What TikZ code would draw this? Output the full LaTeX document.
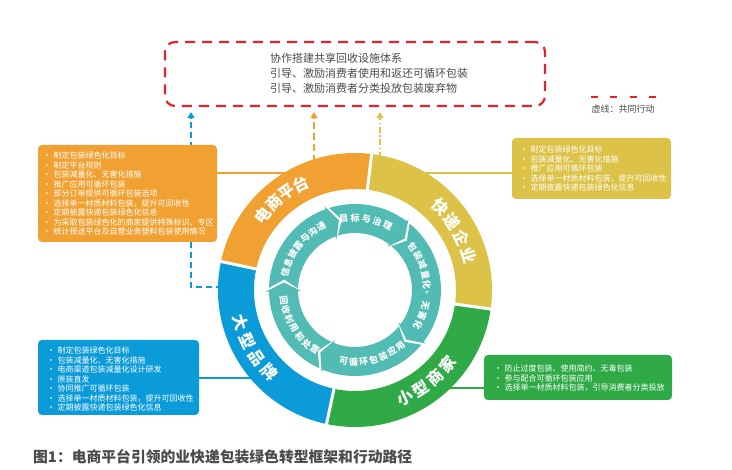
\documentclass[tikz,border=0pt]{standalone}
\usepackage{fontspec}
\setmainfont{Noto Sans CJK SC}
\usetikzlibrary{arrows.meta}
\definecolor{cOr}{HTML}{F0A132}
\definecolor{cYe}{HTML}{DCC247}
\definecolor{cGr}{HTML}{2FAA47}
\definecolor{cBl}{HTML}{0A9BD8}
\definecolor{cTe}{HTML}{52BCB4}
\definecolor{cRe}{HTML}{E62129}
\definecolor{cTx}{HTML}{4A4A4A}
\tikzset{
 infobox/.style={rectangle, rounded corners=4pt, inner sep=0pt},
 boxtext/.style={anchor=west, align=left, text=white, inner sep=0pt, font=\fontsize{8}{9.5}\selectfont},
 ringlab/.style={text=white, font=\fontsize{16}{16}\selectfont\bfseries, inner sep=0pt},
 tealab/.style={text=white, font=\fontsize{9}{9}\selectfont\bfseries, inner sep=0pt},
 conn/.style={line width=1.5pt},
 upar/.style={line width=1.5pt, -{Triangle[width=7pt,length=6pt]}, shorten >=5pt},
}
\begin{document}
\begin{tikzpicture}[x=1pt,y=1pt]
\useasboundingbox (0,0) rectangle (732,470);

% top dashed box
\node[draw=cRe, line width=2.2pt, dash pattern=on 10pt off 7pt, rounded corners=10pt,
      minimum width=380pt, minimum height=64pt, inner sep=0pt] (rb) at (355,396) {};
\node[anchor=west, align=left, text=cTx, inner sep=0pt, font=\fontsize{11}{15}\selectfont] (rbt) at (270,397)
 {协作搭建共享回收设施体系\\引导、激励消费者使用和返还可循环包装\\引导、激励消费者分类投放包装废弃物};

% legend
\coordinate (lg1) at (591,373);
\coordinate (lg2) at (657,373);
\draw[cRe, line width=2pt, dash pattern=on 7pt off 12.3pt] (lg1) -- (lg2);
\node[text=cTx, inner sep=0pt, font=\fontsize{9}{9}\selectfont] (lgt) at (623,361) {虚线：共同行动};

% coordinates on the ring
\coordinate (oc) at (290,297);
\coordinate (yc) at (420,297);
\coordinate (bc) at (256,92);
\coordinate (gc) at (445,82);
\coordinate (oa) at (314,308);
\coordinate (ya) at (380,312);
\coordinate (bs) at (222,183);
\coordinate (bk) at (191,183);

% dashed up arrows
\draw[upar, cBl, dash pattern=on 6pt off 4pt] (bs) -- (bk) -- (bk |- rb.south);
\draw[upar, cOr, dash pattern=on 7pt off 4pt] (oa) -- (oa |- rb.south);
\draw[upar, cYe, dash pattern=on 6pt off 2.5pt on 1.5pt off 2.5pt] (ya) -- (ya |- rb.south);

% boxes
\node[infobox, fill=cOr, minimum width=179pt, minimum height=97pt] (ob) at (127.5,276.5) {};
\node[infobox, fill=cYe, minimum width=159pt, minimum height=61pt] (yb) at (591.5,301.5) {};
\node[infobox, fill=cBl, minimum width=161pt, minimum height=75pt] (bb) at (118.5,92.5) {};
\node[infobox, fill=cGr, minimum width=188pt, minimum height=45pt] (gb) at (578,92.5) {};

% solid connectors
\draw[conn, cOr] (ob.east |- oc) -- (oc);
\draw[conn, cYe] (yc) -- (yb.west |- yc);
\draw[conn, cBl] (bb.east |- bc) -- (bc);
\draw[conn, cGr] (gc) -- (gb.west |- gc);

% box texts
\node[boxtext] (obt) at (43,276.5) {·\hspace{2.5pt}制定包装绿色化目标\\·\hspace{2.5pt}制定平台规则\\·\hspace{2.5pt}包装减量化、无害化措施\\·\hspace{2.5pt}推广应用可循环包装\\·\hspace{2.5pt}部分订单提供可循环包装选项\\·\hspace{2.5pt}选择单一材质材料包装，提升可回收性\\·\hspace{2.5pt}定期披露快递包装绿色化信息\\·\hspace{2.5pt}为采取包装绿色化的商家提供特殊标识、专区\\·\hspace{2.5pt}统计报送平台及自营业务塑料包装使用情况};
\node[boxtext] (ybt) at (520,301.5) {·\hspace{2.5pt}制定包装绿色化目标\\·\hspace{2.5pt}包装减量化、无害化措施\\·\hspace{2.5pt}推广应用可循环包装\\·\hspace{2.5pt}选择单一材质材料包装，提升可回收性\\·\hspace{2.5pt}定期披露快递包装绿色化信息};
\node[boxtext] (bbt) at (47,91) {·\hspace{2.5pt}制定包装绿色化目标\\·\hspace{2.5pt}包装减量化、无害化措施\\·\hspace{2.5pt}电商渠道包装减量化设计研发\\·\hspace{2.5pt}原装直发\\·\hspace{2.5pt}协同推广可循环包装\\·\hspace{2.5pt}选择单一材质材料包装，提升可回收性\\·\hspace{2.5pt}定期披露快递包装绿色化信息};
\node[boxtext] (gbt) at (494,91.5) {·\hspace{2.5pt}防止过度包装、使用简约、无毒包装\\·\hspace{2.5pt}参与配合可循环包装应用\\·\hspace{2.5pt}选择单一材质材料包装，引导消费者分类投放};

% rings
\begin{scope}[shift={(355,180)}]
 \fill[cOr] (83:137) arc[start angle=83,end angle=168,radius=137] -- (168:101) arc[start angle=168,end angle=83,radius=101] -- cycle;
 \fill[cYe] (-8:137) arc[start angle=-8,end angle=83,radius=137] -- (83:101) arc[start angle=83,end angle=-8,radius=101] -- cycle;
 \fill[cGr] (-102:137) arc[start angle=-102,end angle=-8,radius=137] -- (-8:101) arc[start angle=-8,end angle=-102,radius=101] -- cycle;
 \fill[cBl] (168:137) arc[start angle=168,end angle=258,radius=137] -- (258:101) arc[start angle=258,end angle=168,radius=101] -- cycle;
 \foreach \s in {83,-8,-102,168} { \draw[white, line width=3pt] (\s:99) -- (\s:139); }

 \foreach \ch [count=\i from 0] in {电,商,平,台} {\node[ringlab, rotate={141-8*\i-90}] (rA\i) at ({141-8*\i}:119) {\ch};}
 \foreach \ch [count=\i from 0] in {快,递,企,业} {\node[ringlab, rotate={44-9*\i-90}] (rB\i) at ({44-9*\i}:119) {\ch};}
 \foreach \ch [count=\i from 0] in {小,型,商,家} {\node[ringlab, rotate={-65+8.7*\i+90}] (rC\i) at ({-65+8.7*\i}:119) {\ch};}
 \foreach \ch [count=\i from 0] in {大,型,品,牌} {\node[ringlab, rotate={196+9.3*\i+90}] (rD\i) at ({196+9.3*\i}:119) {\ch};}

 \foreach \a/\b in {181/110,110/53,53/-37,-37/-112,-112/-179} {
  \fill[cTe] ({\a-2.5}:86) arc[start angle=\a-2.5, end angle=\b, radius=86] -- (\b:89) -- ({\b-7}:71.5) -- (\b:54) -- (\b:57)
    arc[start angle=\b, end angle=\a-2.5, radius=57] -- ({\a-9.5}:71.5) -- cycle;
 }
 \foreach \ch [count=\i from 0] in {信,息,披,露,与,沟,通} {\node[tealab, rotate={166-8*\i-90}] (tA\i) at ({166-8*\i}:72) {\ch};}
 \foreach \ch [count=\i from 0] in {目,标,与,治,理} {\node[tealab, rotate={99-9*\i-90}] (tB\i) at ({99-9*\i}:72) {\ch};}
 \foreach \ch [count=\i from 0] in {包,装,减,量,化,、,无,害,化} {\node[tealab, rotate={37-8.25*\i-90}] (tC\i) at ({37-8.25*\i}:72) {\ch};}
 \foreach \ch [count=\i from 0] in {可,循,环,包,装,应,用} {\node[tealab, rotate={-99+8*\i+90}] (tD\i) at ({-99+8*\i}:72) {\ch};}
 \foreach \ch [count=\i from 0] in {回,收,利,用,和,处,置} {\node[tealab, rotate={188+8*\i+90}] (tE\i) at ({188+8*\i}:72) {\ch};}
\end{scope}

% caption
\node[anchor=west, inner sep=0pt, text=cTx, font=\fontsize{14.8}{15}\selectfont\bfseries] (cap) at (33,13)
 {图1：电商平台引领的业快递包装绿色转型框架和行动路径};
\end{tikzpicture}
\end{document}
